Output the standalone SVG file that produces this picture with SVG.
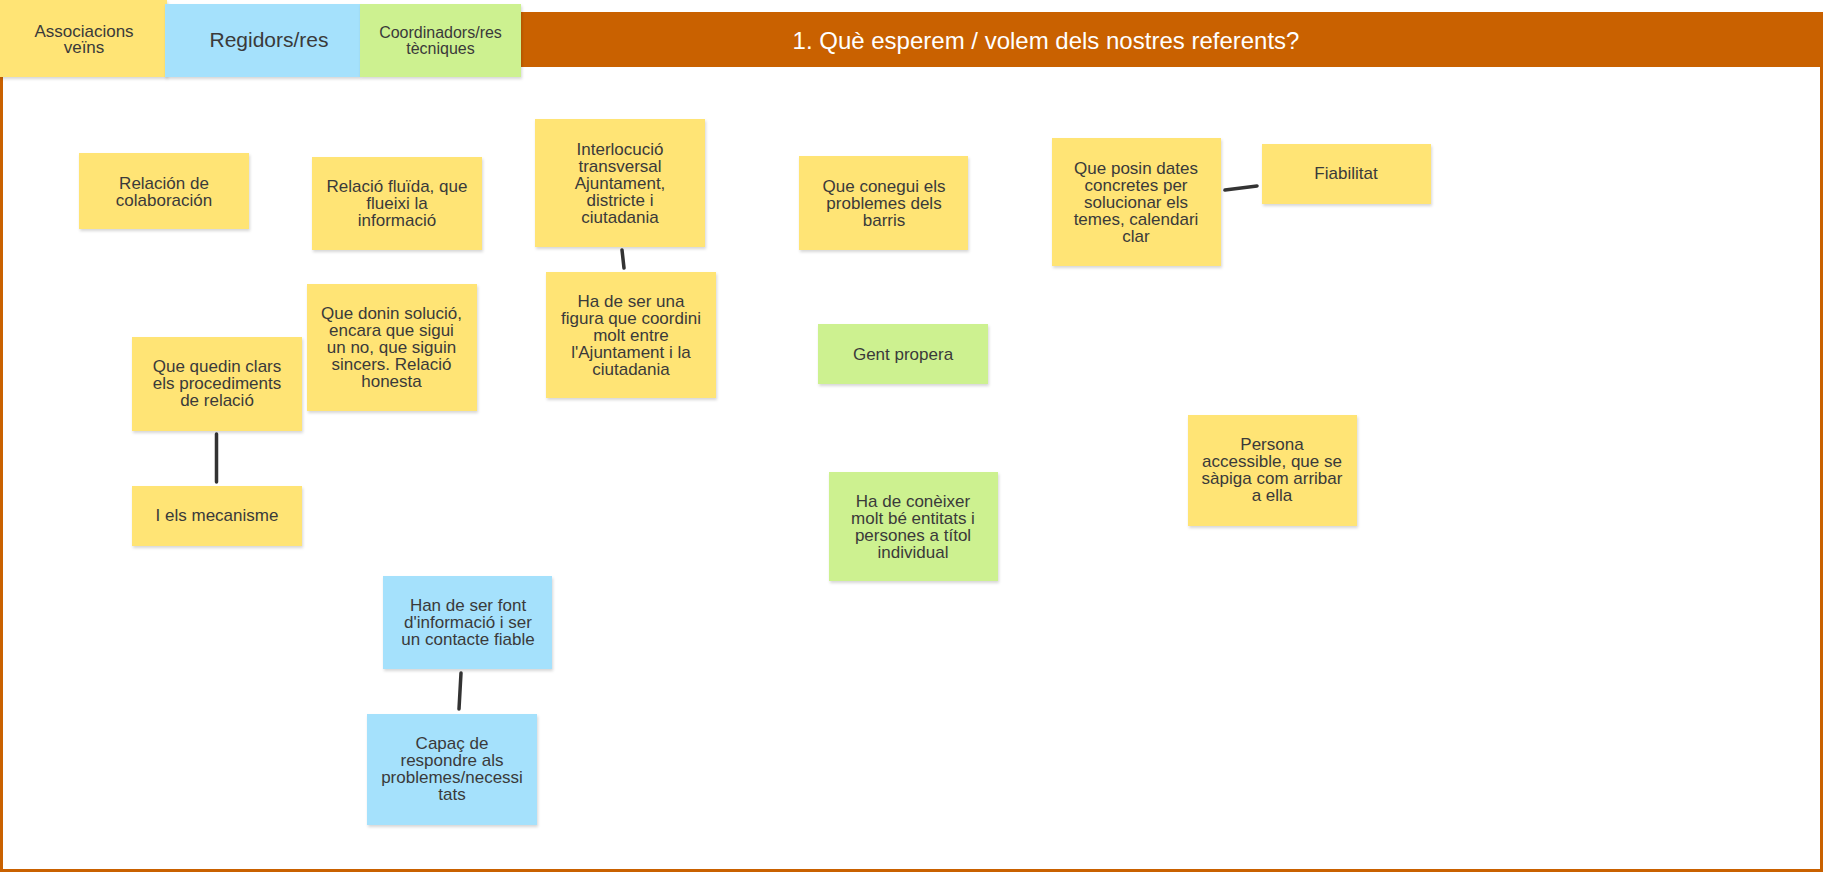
<svg xmlns="http://www.w3.org/2000/svg" width="1823" height="872" viewBox="0 0 1823 872">
<defs>
<filter id="sh" x="-10%" y="-10%" width="125%" height="130%">
<feDropShadow dx="1" dy="2" stdDeviation="1.5" flood-color="#000" flood-opacity="0.16"/>
</filter>
</defs>
<style>
.y{fill:#ffe475;filter:url(#sh)}
.b{fill:#a5e1fc;filter:url(#sh)}
.g{fill:#cdf190;filter:url(#sh)}
.t{font-family:"Liberation Sans",Arial,sans-serif;font-size:17px;fill:#3a3a3a;text-anchor:middle}
.c{stroke:#333;stroke-width:3.5;stroke-linecap:round;fill:none}
</style>
<rect width="1823" height="872" fill="#fff"/>
<g id="frame">
<rect x="1.5" y="13.5" width="1820" height="857" fill="none" stroke="#c96100" stroke-width="3"/>
<rect x="521" y="13" width="1302" height="54" fill="#c96100"/>
<text x="1046" y="49" font-family="Liberation Sans,Arial,sans-serif" font-size="24" fill="#fff" text-anchor="middle">1. Què esperem / volem dels nostres referents?</text>
</g>
<g id="h-associacions"><rect class="y" x="0" y="0" width="167" height="77"/><text class="t" x="84"><tspan x="84" y="36.5">Associacions</tspan><tspan x="84" y="53">veïns</tspan></text></g>
<g id="h-regidors"><rect class="b" x="165" y="4" width="195" height="73"/><text class="t" x="269" y="46.5" style="font-size:21px">Regidors/res</text></g>
<g id="h-coordinadors"><rect class="g" x="360" y="4" width="161" height="73"/><text class="t" style="font-size:16px"><tspan x="440.5" y="38">Coordinadors/res</tspan><tspan x="440.5" y="54">tècniques</tspan></text></g>
<g id="connectors">
<line class="c" x1="622" y1="250" x2="624" y2="268"/>
<line class="c" x1="216.5" y1="434" x2="216.5" y2="482"/>
<line class="c" x1="461" y1="673" x2="459" y2="709"/>
<line class="c" x1="1225" y1="190" x2="1257" y2="186"/>
</g>
<g id="n1"><rect class="y" x="79" y="153" width="170" height="76"/><text class="t"><tspan x="164" y="188.5">Relación de</tspan><tspan x="164" y="205.5">colaboración</tspan></text></g>
<g id="n2"><rect class="y" x="312" y="157" width="170" height="93"/><text class="t"><tspan x="397" y="191.7">Relació fluïda, que</tspan><tspan x="397" y="208.7">flueixi la</tspan><tspan x="397" y="225.7">informació</tspan></text></g>
<g id="n3"><rect class="y" x="535" y="119" width="170" height="128"/><text class="t"><tspan x="620" y="154.8">Interlocució</tspan><tspan x="620" y="171.8">transversal</tspan><tspan x="620" y="188.8">Ajuntament,</tspan><tspan x="620" y="205.8">districte i</tspan><tspan x="620" y="222.8">ciutadania</tspan></text></g>
<g id="n4"><rect class="y" x="799" y="156" width="169" height="94"/><text class="t"><tspan x="884" y="191.7">Que conegui els</tspan><tspan x="884" y="208.7">problemes dels</tspan><tspan x="884" y="225.7">barris</tspan></text></g>
<g id="n5"><rect class="y" x="1052" y="138" width="169" height="128"/><text class="t"><tspan x="1136" y="174.4">Que posin dates</tspan><tspan x="1136" y="191.4">concretes per</tspan><tspan x="1136" y="208.4">solucionar els</tspan><tspan x="1136" y="225.4">temes, calendari</tspan><tspan x="1136" y="242.4">clar</tspan></text></g>
<g id="n6"><rect class="y" x="1262" y="144" width="169" height="60"/><text class="t" x="1346" y="179">Fiabilitat</text></g>
<g id="n7"><rect class="y" x="132" y="337" width="170" height="94"/><text class="t"><tspan x="217" y="372.3">Que quedin clars</tspan><tspan x="217" y="389.3">els procediments</tspan><tspan x="217" y="406.3">de relació</tspan></text></g>
<g id="n8"><rect class="y" x="307" y="284" width="170" height="127"/><text class="t"><tspan x="391.5" y="319.2">Que donin solució,</tspan><tspan x="391.5" y="336.2">encara que sigui</tspan><tspan x="391.5" y="353.2">un no, que siguin</tspan><tspan x="391.5" y="370.2">sincers. Relació</tspan><tspan x="391.5" y="387.2">honesta</tspan></text></g>
<g id="n9"><rect class="y" x="546" y="272" width="170" height="126"/><text class="t"><tspan x="631" y="306.8">Ha de ser una</tspan><tspan x="631" y="323.8">figura que coordini</tspan><tspan x="631" y="340.8">molt entre</tspan><tspan x="631" y="357.8">l'Ajuntament i la</tspan><tspan x="631" y="374.8">ciutadania</tspan></text></g>
<g id="n10"><rect class="g" x="818" y="324" width="170" height="60"/><text class="t" x="903" y="360">Gent propera</text></g>
<g id="n11"><rect class="y" x="132" y="486" width="170" height="60"/><text class="t" x="217" y="521">I els mecanisme</text></g>
<g id="n12"><rect class="y" x="1188" y="415" width="169" height="111"/><text class="t"><tspan x="1272" y="450.3">Persona</tspan><tspan x="1272" y="467.3">accessible, que se</tspan><tspan x="1272" y="484.3">sàpiga com arribar</tspan><tspan x="1272" y="501.3">a ella</tspan></text></g>
<g id="n13"><rect class="g" x="829" y="472" width="169" height="109"/><text class="t"><tspan x="913" y="507">Ha de conèixer</tspan><tspan x="913" y="524">molt bé entitats i</tspan><tspan x="913" y="541">persones a títol</tspan><tspan x="913" y="558">individual</tspan></text></g>
<g id="n14"><rect class="b" x="383" y="576" width="169" height="93"/><text class="t"><tspan x="468" y="611.3">Han de ser font</tspan><tspan x="468" y="628.3">d'informació i ser</tspan><tspan x="468" y="645.3">un contacte fiable</tspan></text></g>
<g id="n15"><rect class="b" x="367" y="714" width="170" height="111"/><text class="t"><tspan x="452" y="749.3">Capaç de</tspan><tspan x="452" y="766.3">respondre als</tspan><tspan x="452" y="783.3">problemes/necessi</tspan><tspan x="452" y="800.3">tats</tspan></text></g>
</svg>
